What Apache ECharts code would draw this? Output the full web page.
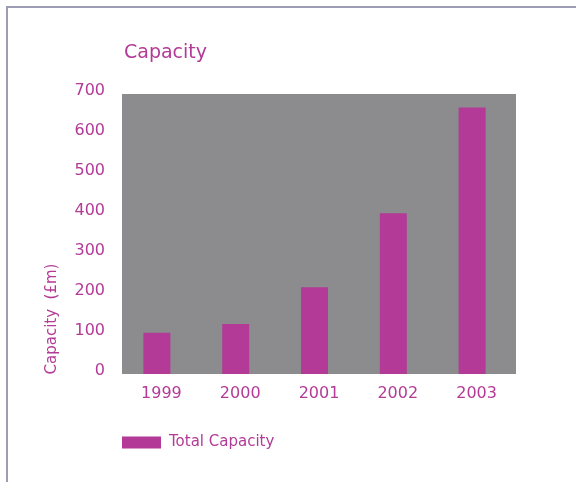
<!DOCTYPE html>
<html>
<head>
<meta charset="utf-8">
<script src="https://cdn.jsdelivr.net/npm/echarts@6/dist/echarts.min.js"></script>
<style>
html,body{margin:0;padding:0;background:#fff;}
#frame{position:absolute;left:6px;top:6px;width:570px;height:476px;border-top:2px solid #9c9cb2;border-left:2px solid #9c9cb2;}
#chart{position:absolute;left:0;top:0;width:576px;height:482px;}
</style>
</head>
<body>
<div id="frame"></div>
<div id="chart"></div>
<script>
var categories = ['1999', '2000', '2001', '2002', '2003'];
var totalCapacity = [103, 125, 217, 402, 666];
var yMin = 0, yMax = 700, yStep = 100;
var seriesName = 'Total Capacity';
var titleText = 'Capacity';
var yAxisName = 'Capacity  (£m)';

var pink = '#b33a96';
var font = 'DejaVu Sans';
var chart = echarts.init(document.getElementById('chart'));
chart.setOption({
  animation: false,
  title: {
    text: titleText, left: 119, top: 39,
    textStyle: {color: pink, fontFamily: font, fontSize: 19, fontWeight: 'normal'}
  },
  legend: {
    data: [seriesName], left: 122, top: 435, padding: 0, itemWidth: 39, itemHeight: 12, itemGap: 8,
    icon: 'rect',
    textStyle: {color: pink, fontFamily: font, fontSize: 15, padding: [0, 0, 0, 3]}
  },
  grid: [
    {left: 122, right: 60, top: 94, bottom: 108, show: true, backgroundColor: '#8c8c8e', borderWidth: 0},
    {left: 117.5, right: 64.5, top: 94, bottom: 108}
  ],
  xAxis: [
    {type: 'category', gridIndex: 0, data: categories,
     axisLine: {show: false}, axisTick: {show: false}, splitLine: {show: false},
     axisLabel: {color: pink, fontFamily: font, fontSize: 16, margin: 12}},
    {type: 'category', gridIndex: 1, data: categories, show: false}
  ],
  yAxis: [
    {type: 'value', gridIndex: 0, min: yMin, max: yMax, interval: yStep,
     axisLine: {show: false}, axisTick: {show: false}, splitLine: {show: false},
     axisLabel: {color: pink, fontFamily: font, fontSize: 16, margin: 17, verticalAlign: 'bottom', lineHeight: 6},
     name: yAxisName, nameLocation: 'middle', nameRotate: 90, nameGap: 62,
     nameTextStyle: {color: pink, fontFamily: font, fontSize: 15, padding: [0, 170, 0, 0]}},
    {type: 'value', gridIndex: 1, min: yMin, max: yMax, interval: yStep, show: false}
  ],
  series: [
    {name: seriesName, type: 'bar', xAxisIndex: 1, yAxisIndex: 1, data: totalCapacity,
     barWidth: 27, itemStyle: {color: pink}}
  ]
});
</script>
</body>
</html>
